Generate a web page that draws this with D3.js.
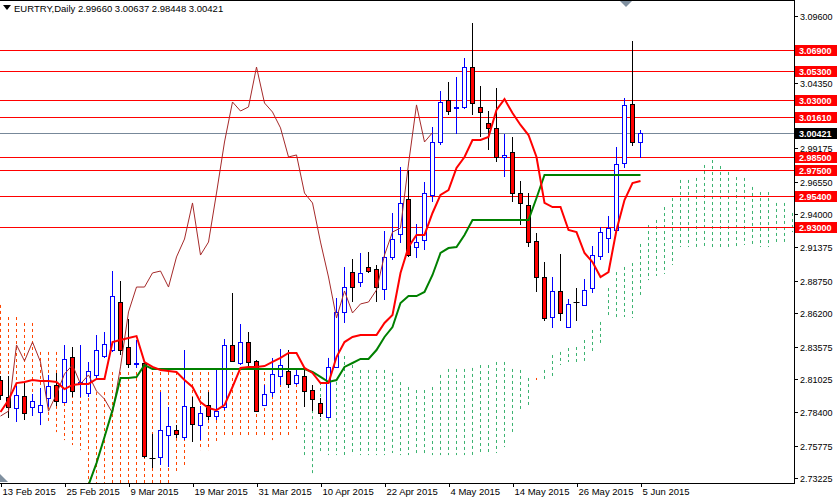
<!DOCTYPE html>
<html><head><meta charset="utf-8">
<script src="https://cdn.jsdelivr.net/npm/d3@7"></script>
<style>body{margin:0;background:#fff}svg{display:block}text{font-family:"Liberation Sans",Arial,sans-serif}</style>
</head><body><svg id="c" width="837" height="498"></svg>
<script>
// OHLC per daily bar [open, high, low, close]
const ohlc = [
[2.8094,2.8126,2.7936,2.7975],[2.7960,2.8126,2.7794,2.7881],[2.7873,2.8047,2.7763,2.7975],[2.7967,2.8070,2.7779,2.7834],
[2.7881,2.7983,2.7810,2.7928],[2.7842,2.8031,2.7739,2.7897],[2.7952,2.8134,2.7881,2.8047],[2.8055,2.8150,2.7889,2.7928],
[2.7920,2.8370,2.7912,2.8260],[2.8275,2.8354,2.7960,2.8007],[2.8063,2.8370,2.7960,2.8078],[2.7991,2.8236,2.7960,2.8165],
[2.8134,2.8448,2.8110,2.8330],[2.8283,2.8472,2.8268,2.8378],[2.8330,2.8952,2.8315,2.8755],[2.8708,2.8873,2.8291,2.8330],
[2.8354,2.8574,2.8189,2.8220],[2.8220,2.8409,2.8189,2.8228],[2.8228,2.8236,2.7479,2.7495],[2.7479,2.7668,2.7401,2.7479],
[2.7487,2.7999,2.7424,2.7700],[2.7660,2.7881,2.7409,2.7731],[2.7700,2.7739,2.7637,2.7668],[2.7645,2.8330,2.7621,2.7889],
[2.7881,2.7960,2.7605,2.7747],[2.7739,2.7889,2.7621,2.7834],[2.7897,2.7999,2.7779,2.7810],[2.7810,2.8189,2.7779,2.7849],
[2.7881,2.8417,2.7857,2.8370],[2.8370,2.8779,2.8236,2.8244],[2.8228,2.8535,2.8212,2.8393],[2.8393,2.8472,2.8197,2.8236],
[2.8244,2.8252,2.7842,2.7849],[2.7897,2.8055,2.7897,2.7983],[2.7999,2.8268,2.7960,2.8142],[2.8126,2.8338,2.8055,2.8212],
[2.8165,2.8330,2.8031,2.8063],[2.8070,2.8181,2.8055,2.8134],[2.8126,2.8189,2.7881,2.8007],[2.8015,2.8055,2.7849,2.7944],
[2.7912,2.7952,2.7802,2.7834],[2.7802,2.8268,2.7795,2.8197],[2.8197,2.8740,2.8189,2.8630],[2.8630,2.8984,2.8543,2.8826],
[2.8944,2.9047,2.8708,2.8826],[2.8866,2.9094,2.8826,2.8937],[2.8984,2.9102,2.8937,2.8952],[2.8968,2.9000,2.8708,2.8826],
[2.8811,2.9267,2.8724,2.9063],[2.9063,2.9409,2.9039,2.9204],[2.9243,2.9771,2.9173,2.9488],[2.9519,2.9747,2.9063,2.9078],
[2.9141,2.9322,2.9055,2.9180],[2.9196,2.9653,2.9117,2.9566],[2.9551,3.0086,2.9495,2.9968],[2.9968,3.0369,2.9945,3.0283],
[3.0299,3.0440,3.0181,3.0212],[3.0236,3.0480,3.0031,3.0244],[3.0244,3.0629,3.0228,3.0558],[3.0558,3.0905,3.0181,3.0275],
[3.0244,3.0409,3.0007,3.0204],[3.0118,3.0212,2.9905,3.0079],[3.0079,3.0393,2.9811,2.9850],[2.9850,3.0031,2.9692,2.9866],
[2.9889,3.0007,2.9495,2.9566],[2.9566,2.9661,2.9314,2.9488],[2.9472,2.9566,2.9141,2.9180],[2.9188,2.9251,2.8787,2.8905],
[2.8905,2.9023,2.8559,2.8582],[2.8590,2.8905,2.8504,2.8795],[2.8795,2.9086,2.8559,2.8622],[2.8511,2.8732,2.8511,2.8693],
[2.8708,2.8818,2.8559,2.8708],[2.8685,2.8889,2.8677,2.8803],[2.8818,2.9149,2.8779,2.9078],[2.9070,2.9298,2.9039,2.9259],
[2.9211,2.9385,2.9094,2.9291],[2.9275,2.9928,2.9259,2.9795],[2.9803,3.0315,2.9763,3.0260],[3.0268,3.0763,2.9937,2.9968],
[2.9966,3.0064,2.9845,3.0042]];
const tenkan = [2.7842,2.7936,2.8070,2.8078,2.8094,2.8086,2.8086,2.8078,2.8023,2.8055,2.8063,2.8063,2.8102,2.8102,2.8393,2.8409,
2.8425,2.8440,2.8236,2.8197,2.8173,2.8165,2.8157,2.8094,2.8039,2.7920,2.7873,2.7857,2.7897,2.8039,2.8189,2.8197,2.8197,2.8204,
2.8236,2.8268,2.8307,2.8307,2.8189,2.8150,2.8070,2.8070,2.8275,2.8393,2.8433,2.8448,2.8448,2.8448,2.8543,2.8606,2.8937,2.9141,
2.9236,2.9236,2.9409,2.9551,2.9590,2.9763,2.9850,2.9984,2.9984,3.0007,3.0220,3.0306,3.0196,3.0102,3.0023,2.9850,2.9488,2.9456,
2.9456,2.9275,2.9259,2.9094,2.9023,2.8905,2.8944,2.9275,2.9511,2.9645,2.9661];
const kijunStart = 11;
const kijun = [2.7267,2.7440,2.7645,2.7857,2.8110,2.8110,2.8118,2.8212,
2.8181,2.8181,2.8181,2.8181,2.8181,2.8181,2.8181,2.8181,2.8181,2.8181,2.8181,2.8181,2.8181,2.8181,2.8181,2.8181,2.8181,2.8181,2.8181,2.8181,
2.8157,2.8118,2.8078,2.8094,2.8197,2.8228,2.8260,2.8260,2.8330,2.8433,2.8511,2.8700,2.8755,2.8755,2.8787,2.8921,2.9094,2.9133,2.9141,2.9236,
2.9354,2.9354,2.9354,2.9354,2.9354,2.9354,2.9354,2.9354,2.9527,
2.9708,2.9708,2.9708,2.9708,2.9708,2.9708,2.9708,2.9708,2.9708,2.9708,2.9708,2.9708,2.9708];
const spanA = [2.7975,2.7936,2.7936,2.7897,2.7897,2.7739,2.7763,2.7684,2.7621,2.7582,2.7542,
2.725,2.725,2.725,2.725,2.725,2.725,2.725,2.725,2.725,2.725,2.725,2.7369,2.7401,2.7605,2.7542,2.7542,2.7605,2.7660,
2.7660,2.7660,2.7660,2.7660,2.7660,2.7621,2.7660,2.7660,2.7700,2.7763,2.7857,2.8078,2.8268,2.8078,2.8283,2.8212,
2.8173,2.8173,2.8173,2.8173,2.8150,2.8078,2.8039,2.8015,2.8015,2.8039,2.8134,2.8181,2.8181,2.8181,2.8189,2.8212,2.8212,
2.8236,2.8236,2.8181,2.8173,2.8110,2.8094,2.8173,2.8291,2.8315,2.8346,2.8354,2.8409,2.8488,2.8551,2.8818,2.8944,2.8984,
2.9015,2.9165,2.9314,2.9354,2.9456,2.9527,2.9669,2.9669,2.9685,2.9787,2.9826,2.9779,2.9732,2.9692,2.9685,2.9614,2.9574,
2.9574,2.9488,2.9488,2.9409];
const spanB = [2.8685,2.8590,2.8590,2.8543,2.8543,2.8315,2.8315,2.8315,2.8291,2.8212,2.8212,2.7999,2.7999,2.7999,
2.8157,2.8157,2.8157,2.8157,2.8157,2.8157,2.8157,2.8157,2.8157,2.8157,2.8157,2.8157,2.8157,2.8157,2.8157,2.8157,2.8157,2.8157,
2.8157,2.8157,2.8157,2.8157,2.8157,2.8157,
2.7503,2.7361,2.7519,2.7503,2.7503,2.7503,2.7503,2.7503,2.7503,2.7503,2.7503,2.7519,2.7503,2.7503,2.7519,2.7519,2.7503,
2.7503,2.7503,2.7503,2.7503,2.7503,2.7503,2.7503,2.7519,2.7566,2.7684,2.7857,2.7897,2.8110,2.8094,2.8118,2.8212,2.8236,
2.8236,2.8244,2.8315,2.8386,2.8582,2.8582,2.8590,2.8582,2.8740,2.8881,2.8913,2.8929,2.9000,2.9141,2.9141,2.9141,2.9141,
2.9141,2.9141,2.9141,2.9141,2.9157,2.9157,2.9141,2.9141,2.9157,2.9180,2.9259];
const chikouShift = 26;
const levels = [3.0690,3.0530,3.0300,3.0161,2.9850,2.9750,2.9540,2.9300];
const lastPrice = 3.00421;
const yTicks = [3.09600,3.04350,2.99175,2.96550,2.94000,2.91375,2.88750,2.86200,2.83575,2.81025,2.78400,2.75775,2.73225];
const dateLabels = [[0,"13 Feb 2015"],[8,"25 Feb 2015"],[16,"9 Mar 2015"],[24,"19 Mar 2015"],[32,"31 Mar 2015"],[40,"10 Apr 2015"],
[48,"22 Apr 2015"],[56,"4 May 2015"],[64,"14 May 2015"],[72,"26 May 2015"],[80,"5 Jun 2015"]];
const title = "EURTRY,Daily  2.99660 3.00637 2.98448 3.00421";

const svg = d3.select("#c");
const W = 794, B = 483;
const x = d3.scaleLinear().domain([0, 1]).range([0.5, 8.5]);
const y = d3.scaleLinear().domain([2.73225, 3.09600]).range([478, 16]);
svg.append("defs").append("clipPath").attr("id","cp").append("rect").attr("x",0).attr("y",0).attr("width",W).attr("height",B);
const g = svg.append("g").attr("clip-path","url(#cp)");
spanA.forEach((a,i)=>{
  const b = spanB[i];
  g.append("line").attr("x1",x(i)).attr("x2",x(i)).attr("y1",y(Math.max(a,b))).attr("y2",y(Math.min(a,b)))
   .attr("stroke", a>=b ? "#3CB371" : "#FF4500").attr("stroke-width",1).attr("stroke-dasharray","3,3");
});
levels.forEach(l=>g.append("line").attr("x1",0).attr("x2",W).attr("y1",Math.round(y(l))+0.5).attr("y2",Math.round(y(l))+0.5).attr("stroke","#FF0000"));
g.append("line").attr("x1",0).attr("x2",W).attr("y1",Math.round(y(lastPrice))+0.5).attr("y2",Math.round(y(lastPrice))+0.5).attr("stroke","#778899");
ohlc.forEach((d,i)=>{
  const [o,h,l,c]=d, cx=x(i);
  const bull=c>o, doji=Math.abs(c-o)<0.00005 && i!==57;
  const col = doji?"#000":(bull?"#0000FF":"#000");
  g.append("line").attr("x1",cx).attr("x2",cx).attr("y1",Math.round(y(h))).attr("y2",Math.round(y(l))).attr("stroke",col);
  if(doji){ g.append("line").attr("x1",cx-3).attr("x2",cx+3).attr("y1",Math.round(y(o))+0.5).attr("y2",Math.round(y(o))+0.5).attr("stroke","#000"); return; }
  const top=Math.round(y(Math.max(o,c))), bot=Math.round(y(Math.min(o,c)));
  g.append("rect").attr("x",cx-2).attr("y",top+0.5).attr("width",4).attr("height",Math.max(1,bot-top))
   .attr("fill",bull?"#fff":"#FF0000").attr("stroke",bull?"#0000FF":"#000");
});
const ln = d3.line().x(d=>x(d[0])).y(d=>y(d[1]));
const chik = ohlc.slice(chikouShift).map((d,i)=>[i,d[3]]);
g.append("path").attr("d",ln(chik)).attr("fill","none").attr("stroke","#A52A2A").attr("stroke-width",1);
g.append("path").attr("d",ln(kijun.map((v,i)=>[i+kijunStart,v]))).attr("fill","none").attr("stroke","#008000").attr("stroke-width",2);
g.append("path").attr("d",ln(tenkan.map((v,i)=>[i,v]))).attr("fill","none").attr("stroke","#FF0000").attr("stroke-width",2);
const fr = svg.append("g").attr("shape-rendering","crispEdges");
fr.append("line").attr("x1",W+0.5).attr("x2",W+0.5).attr("y1",0).attr("y2",B).attr("stroke","#000");
fr.append("line").attr("x1",0).attr("x2",W+1).attr("y1",B+0.5).attr("y2",B+0.5).attr("stroke","#000");
fr.append("line").attr("x1",0).attr("x2",W+1).attr("y1",0.5).attr("y2",0.5).attr("stroke","#000");
yTicks.forEach(t=>{
  const yy=Math.round(y(t))+0.5;
  fr.append("line").attr("x1",W).attr("x2",W+4).attr("y1",yy).attr("y2",yy).attr("stroke","#000");
  svg.append("text").attr("x",W+6).attr("y",yy+3).attr("font-size",9).attr("fill","#000").text(t.toFixed(5));
});
const tag=(v,bg)=>{
  const yy=Math.round(y(v));
  fr.append("rect").attr("x",W+1).attr("y",yy-5).attr("width",42).attr("height",11).attr("fill",bg);
  svg.append("text").attr("x",W+5).attr("y",yy+3.5).attr("font-size",9).attr("font-weight","bold").attr("fill","#fff").text(v.toFixed(5));
};
levels.forEach(l=>tag(l,"#FF0000"));
tag(lastPrice,"#000");
dateLabels.forEach(([i,s])=>{
  const xx=Math.round(x(i))+0.5;
  fr.append("line").attr("x1",xx).attr("x2",xx).attr("y1",B).attr("y2",B+4).attr("stroke","#000");
  svg.append("text").attr("x",xx+1).attr("y",495).attr("font-size",9.5).attr("fill","#000").text(s);
});
svg.append("path").attr("d","M3,5 L11,5 L7,10 Z").attr("fill","#000");
svg.append("text").attr("x",14).attr("y",12).attr("font-size",9.5).attr("fill","#000").text(title);
svg.append("path").attr("d","M620,1 L632,1 L626,7 Z").attr("fill","#8090a0");
svg.append("path").attr("d","M0,474 L8,482 L0,482 Z").attr("fill","#8090a0");
</script></body></html>
